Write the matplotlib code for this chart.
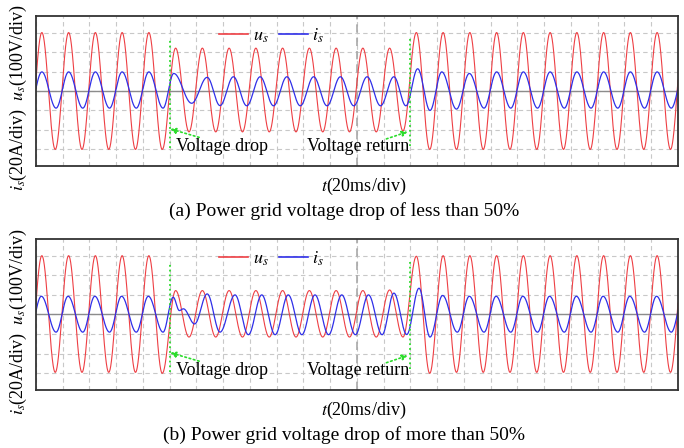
import numpy as np
import matplotlib
matplotlib.use('Agg')
import matplotlib.pyplot as plt
from matplotlib.lines import Line2D

plt.rcParams['font.family'] = ['Liberation Serif', 'DejaVu Serif']
plt.rcParams['mathtext.fontset'] = 'stix'

# extrema of the scope traces, time in divisions (1 div = 20 ms), value in divisions
u_t = [-0.28, 0.22, 0.72, 1.22, 1.72, 2.22, 2.72, 3.22, 3.72, 4.22, 4.72,
       5.22, 5.72, 6.22, 6.72, 7.22, 7.72, 8.22, 8.72, 9.22, 9.72,
       10.22, 10.72, 11.22, 11.72, 12.22, 12.72, 13.22, 13.72,
       14.22, 14.72, 15.22, 15.72, 16.22, 16.72, 17.22, 17.72, 18.22, 18.72,
       19.22, 19.72, 20.22, 20.72, 21.22, 21.72, 22.22, 22.72, 23.22, 23.72, 24.22]

ua_v = [-3.0, 3.0, -3.0, 3.0, -3.0, 3.0, -3.0, 3.0, -3.0, 3.0, -3.0,
        2.2, -2.1, 2.2, -2.1, 2.2, -2.1, 2.2, -2.1, 2.2, -2.1,
        2.2, -2.1, 2.2, -2.1, 2.2, -2.1, 2.2, -2.05,
        3.0, -3.0, 3.0, -3.0, 3.0, -3.0, 3.0, -3.0, 3.0, -3.0,
        3.0, -3.0, 3.0, -3.0, 3.0, -3.0, 3.0, -3.0, 3.0, -3.0, 3.0]

ub_v = [-2.95, 3.0, -2.95, 3.0, -2.95, 3.0, -2.95, 3.0, -2.95, 3.0, -3.0,
        1.22, -1.15, 1.22, -1.15, 1.22, -1.15, 1.22, -1.15, 1.22, -1.15,
        1.22, -1.15, 1.22, -1.15, 1.22, -1.15, 1.25, -1.15,
        2.97, -3.0, 3.0, -2.95, 3.0, -2.95, 3.0, -2.95, 3.0, -2.95,
        3.0, -2.95, 3.0, -2.95, 3.0, -2.95, 3.0, -2.95, 3.0, -2.95, 3.0]

ia_t = [-0.25, 0.22, 0.75, 1.22, 1.75, 2.22, 2.75, 3.22, 3.75, 4.22, 4.75,
        5.15, 5.82, 6.40, 6.88, 7.38, 7.88, 8.38, 8.88, 9.38, 9.88,
        10.38, 10.88, 11.38, 11.88, 12.38, 12.88, 13.38, 13.83,
        14.27, 14.73, 15.17, 15.72, 16.20, 16.75, 17.22, 17.75, 18.22, 18.75,
        19.22, 19.75, 20.22, 20.75, 21.22, 21.75, 22.22, 22.75, 23.22, 23.75, 24.22]
ia_v = [-0.88, 0.98, -0.88, 0.98, -0.88, 0.98, -0.88, 0.98, -0.88, 0.98, -0.88,
        0.9, -0.63, 0.7, -0.75, 0.73, -0.76, 0.73, -0.76, 0.73, -0.76,
        0.73, -0.76, 0.73, -0.76, 0.73, -0.76, 0.73, -0.76,
        1.14, -1.0, 0.98, -0.93, 0.9, -0.88, 0.98, -0.88, 0.98, -0.88,
        0.98, -0.88, 0.98, -0.88, 0.98, -0.88, 0.98, -0.88, 0.98, -0.88, 0.98]

ib_t = [-0.25, 0.2, 0.75, 1.2, 1.75, 2.2, 2.75, 3.2, 3.75, 4.2, 4.75,
        5.13, 5.36, 5.51, 5.93, 6.40, 6.88, 7.44, 7.94, 8.44, 8.94, 9.43, 9.94,
        10.43, 10.94, 11.43, 11.94, 12.43, 12.94, 13.38, 13.86,
        14.32, 14.73, 15.20, 15.75, 16.20, 16.75, 17.2, 17.75, 18.2, 18.75,
        19.2, 19.75, 20.2, 20.75, 21.2, 21.75, 22.2, 22.75, 23.2, 23.75, 24.2]
ib_v = [-0.9, 0.93, -0.9, 0.93, -0.9, 0.93, -0.9, 0.93, -0.9, 0.93, -0.9,
        0.88, 0.2, 0.29, -0.48, 1.05, -0.9, 1.0, -1.03, 1.0, -1.03, 1.0, -1.03,
        1.0, -1.03, 1.0, -1.03, 1.0, -1.03, 1.09, -1.02,
        1.34, -1.15, 0.97, -0.9, 0.93, -0.9, 0.93, -0.9, 0.93, -0.9,
        0.93, -0.9, 0.93, -0.9, 0.93, -0.9, 0.93, -0.9, 0.93, -0.9, 0.93]

event_t = [5, 14]            # voltage drop / voltage return
event_top = [2.7, 2.7]
event_bot = [-2.95, -2.8]
event_labels = ['Voltage drop', 'Voltage return']
captions = ['(a) Power grid voltage drop of less than 50%',
            '(b) Power grid voltage drop of more than 50%']

RED = '#ee3f44'
BLUE = '#2f2fe8'
GREEN = '#2bdc2b'


def trace(tk, vk, t):
    # half-cosine between consecutive extrema read from the scope
    tk = np.asarray(tk); vk = np.asarray(vk)
    i = np.clip(np.searchsorted(tk, t, side='right') - 1, 0, len(tk) - 2)
    s = (t - tk[i]) / (tk[i + 1] - tk[i])
    return vk[i] + (vk[i + 1] - vk[i]) * (1 - np.cos(np.pi * s)) / 2


t = np.linspace(0, 24, 5000)

fig = plt.figure(figsize=(6.84, 4.48), dpi=100)
boxes = [[0.0526, 0.6295, 0.9386, 0.3348], [0.0526, 0.1295, 0.9386, 0.337]]
series = [(ua_v, ia_t, ia_v), (ub_v, ib_t, ib_v)]

for k, (box, (u_v, i_t, i_v)) in enumerate(zip(boxes, series)):
    ax = fig.add_axes(box)
    ax.set_xlim(0, 24)
    ax.set_ylim(-3.85, 3.85)
    ax.set_xticks(range(25))
    ax.set_yticks(range(-3, 4))
    ax.tick_params(length=0, labelbottom=False, labelleft=False)
    ax.grid(True, color='#c8c8c8', lw=0.8, dashes=(4, 3))
    ax.axhline(0, color='#8c8c8c', lw=1.0)
    ax.axvline(12, color='#a8a8a8', lw=1.2, dashes=(5, 3))
    for sp in ax.spines.values():
        sp.set_color('#333333')
        sp.set_linewidth(1.3)

    ax.plot(t, trace(u_t, u_v, t), color=RED, lw=0.8)
    ax.plot(t, trace(i_t, i_v, t), color=BLUE, lw=0.9)

    for j, te in enumerate(event_t):
        ax.plot([te, te], [event_bot[j], event_top[j]], color=GREEN, lw=1.3, ls=':')
    ax.annotate('', xy=(5.02, -1.95), xytext=(6.1, -2.38),
                arrowprops=dict(arrowstyle='-|>', color=GREEN, lw=1.2, ls=':',
                                mutation_scale=8, shrinkA=0, shrinkB=0))
    ax.annotate('', xy=(13.9, -2.09), xytext=(13.1, -2.46),
                arrowprops=dict(arrowstyle='-|>', color=GREEN, lw=1.2, ls=':',
                                mutation_scale=8, shrinkA=0, shrinkB=0))
    ax.text(5.23, -2.87, event_labels[0], fontsize=13, va='center', ha='left')
    ax.text(10.12, -2.87, event_labels[1], fontsize=13, va='center', ha='left')

    handles = [Line2D([], [], color=RED, lw=1.2), Line2D([], [], color=BLUE, lw=1.2)]
    ax.legend(handles, [r'$u_s$', r'$i_s$'], loc='upper left', bbox_to_anchor=(0.26, 1.04),
              ncol=2, frameon=False, fontsize=13, handlelength=1.6, columnspacing=0.6,
              handletextpad=0.25)

    ytop = box[1] + box[3] / 2 - 0.015
    fig.text(0.027, ytop, r'$i_s$(20A/div)  $u_s$(100V/div)', rotation=90,
             fontsize=13, ha='center', va='center')
    fig.text(0.531, box[1] - 0.045, r'$t$(20ms/div)', fontsize=13, ha='center', va='center')
    fig.text(0.503, box[1] - 0.1, captions[k], fontsize=14, ha='center', va='center')

fig.savefig('out.png', dpi=100)
